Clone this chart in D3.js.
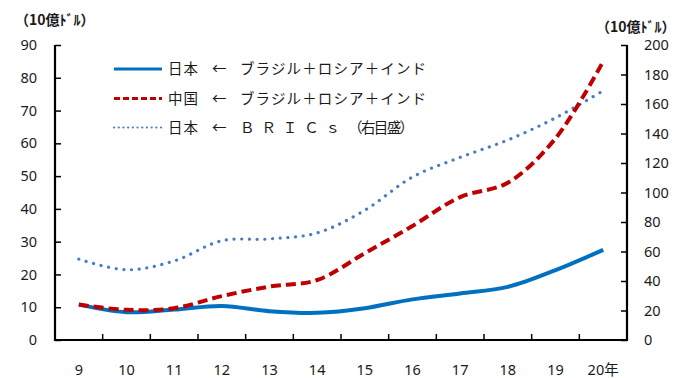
<!DOCTYPE html>
<html>
<head>
<meta charset="utf-8">
<script src="https://cdn.jsdelivr.net/npm/d3@7"></script>
<style>
  html, body { margin: 0; padding: 0; background: #fff; }
  svg { display: block; }
  text { font-family: "Noto Sans", "Noto Sans CJK JP", sans-serif; fill: #1a1a1a; }
  .jp { font-family: "Noto Sans CJK JP", sans-serif; }
</style>
</head>
<body>
<svg id="chart" width="678" height="378"></svg>
<script>
// Years (category axis)
const years = ["9", "10", "11", "12", "13", "14", "15", "16", "17", "18", "19", "20年"];
// 日本 ← ブラジル＋ロシア＋インド (left axis, 10億ドル)
const japanFromBRI = [10.8, 8.5, 9.3, 10.4, 8.8, 8.3, 9.7, 12.4, 14.2, 16.2, 21.3, 27.5];
// 中国 ← ブラジル＋ロシア＋インド (left axis)
const chinaFromBRI = [10.8, 9.2, 9.7, 13.4, 16.3, 18.3, 26.5, 34.8, 43.6, 48.0, 61.5, 85.0];
// 日本 ← BRICs (right axis)
const japanFromBRICs = [54.8, 47.6, 53.6, 67.3, 68.5, 72.6, 88.0, 110.5, 123.8, 135.6, 150.6, 169.0];
// Axis ticks
const leftTicks = [0, 10, 20, 30, 40, 50, 60, 70, 80, 90];
const rightTicks = [0, 20, 40, 60, 80, 100, 120, 140, 160, 180, 200];
// Legend labels: [exporter, arrow, source]
const legendLabels = [
  ["日本", "←", "ブラジル＋ロシア＋インド"],
  ["中国", "←", "ブラジル＋ロシア＋インド"],
  ["日本", "←", "ＢＲＩＣｓ", "（右目盛）"]
];
const unitLabel = "（10億ﾄﾞﾙ）";

const svg = d3.select("#chart");
const plot = { left: 55, right: 627, top: 45, bottom: 340 };

const x = d3.scaleBand().domain(years).range([plot.left, plot.right]);
const cx = d => x(d) + x.bandwidth() / 2;
const yL = d3.scaleLinear().domain([0, 90]).range([plot.bottom, plot.top]);
const yR = d3.scaleLinear().domain([0, 200]).range([plot.bottom, plot.top]);

// Axes (ticks drawn inward)
const axisColor = "#000";
const gLeft = svg.append("g").attr("transform", `translate(${plot.left},0)`)
  .call(d3.axisRight(yL).tickValues(leftTicks).tickSize(6).tickFormat(""));
const gRight = svg.append("g").attr("transform", `translate(${plot.right},0)`)
  .call(d3.axisLeft(yR).tickValues(rightTicks).tickSize(6).tickFormat(""));
const gBottom = svg.append("g").attr("transform", `translate(0,${plot.bottom})`)
  .call(d3.axisTop(x).tickValues(years.slice(1)).tickSize(6).tickFormat(""));
gBottom.selectAll(".tick").attr("transform", d => `translate(${x(d)},0)`);
[gLeft, gRight, gBottom].forEach(g => {
  g.select(".domain").remove();
  g.selectAll(".tick line").attr("stroke", axisColor).attr("stroke-width", 1.5);
});
svg.append("line").attr("x1", plot.left).attr("x2", plot.left).attr("y1", plot.top).attr("y2", plot.bottom + 1)
  .attr("stroke", axisColor).attr("stroke-width", 2.2);
svg.append("line").attr("x1", plot.right).attr("x2", plot.right).attr("y1", plot.top).attr("y2", plot.bottom + 1)
  .attr("stroke", axisColor).attr("stroke-width", 2.2);
svg.append("line").attr("x1", plot.left).attr("x2", plot.right).attr("y1", plot.bottom).attr("y2", plot.bottom)
  .attr("stroke", axisColor).attr("stroke-width", 2.2);

// Tick labels
svg.append("g").selectAll("text").data(leftTicks).join("text")
  .attr("x", 37).attr("y", d => yL(d)).attr("dy", "0.35em")
  .attr("text-anchor", "end").attr("font-size", 14.5).text(d => d);
svg.append("g").selectAll("text").data(rightTicks).join("text")
  .attr("x", 644).attr("y", d => yR(d)).attr("dy", "0.35em")
  .attr("text-anchor", "start").attr("font-size", 14.5).text(d => d);
svg.append("g").selectAll("text").data(years).join("text")
  .attr("x", d => cx(d)).attr("y", 370).attr("dy", "0.35em")
  .attr("text-anchor", "middle").attr("font-size", 14.5).text(d => d);

// Unit labels
svg.append("text").attr("class", "jp").attr("x", 15).attr("y", 20).attr("dy", "0.35em")
  .attr("font-size", 14).attr("font-weight", "bold").text(unitLabel);
svg.append("text").attr("class", "jp").attr("x", 596).attr("y", 27).attr("dy", "0.35em")
  .attr("font-size", 14).attr("font-weight", "bold").text(unitLabel);

// Series lines
const curve = d3.curveCatmullRom.alpha(0.5);
const lineL = d3.line().x((d, i) => cx(years[i])).y(d => yL(d)).curve(curve);
const lineR = d3.line().x((d, i) => cx(years[i])).y(d => yR(d)).curve(curve);

const styles = [
  { color: "#0070C0", width: 4, dash: null, cap: "butt" },
  { color: "#C00000", width: 4, dash: "10 5", cap: "butt" },
  { color: "#4A7EC4", width: 3.2, dash: "0.1 7.6", cap: "round" }
];

svg.append("path").datum(japanFromBRICs).attr("d", lineR)
  .attr("fill", "none").attr("stroke", styles[2].color).attr("stroke-width", styles[2].width)
  .attr("stroke-dasharray", styles[2].dash).attr("stroke-linecap", styles[2].cap);
svg.append("path").datum(japanFromBRI).attr("d", lineL)
  .attr("fill", "none").attr("stroke", styles[0].color).attr("stroke-width", styles[0].width)
  .attr("stroke-linejoin", "round");
svg.append("path").datum(chinaFromBRI).attr("d", lineL)
  .attr("fill", "none").attr("stroke", styles[1].color).attr("stroke-width", styles[1].width)
  .attr("stroke-dasharray", styles[1].dash);

// Legend
const legendY = [69, 98.5, 127.5];
const lg = svg.append("g");
legendLabels.forEach((parts, i) => {
  const s = styles[i];
  lg.append("line").attr("x1", 114).attr("x2", 162).attr("y1", legendY[i]).attr("y2", legendY[i])
    .attr("stroke", s.color).attr("stroke-width", i === 2 ? 2.2 : 2.8)
    .attr("stroke-dasharray", i === 0 ? null : (i === 1 ? "6 3" : "0.1 4.6"))
    .attr("stroke-linecap", i === 2 ? "round" : "butt");
  const t = (str, xPos, len) => {
    const el = lg.append("text").attr("class", "jp").attr("x", xPos).attr("y", legendY[i])
      .attr("dy", "0.36em").attr("font-size", 14.5).text(str);
    if (len) el.attr("textLength", len).attr("lengthAdjust", "spacing");
  };
  t(parts[0], 168, 30);
  t(parts[1], 212);
  if (parts.length === 3) {
    t(parts[2], 240, 186);
  } else {
    t(parts[2], 240, 100);
    t(parts[3], 348, 66);
  }
});
</script>
</body>
</html>
